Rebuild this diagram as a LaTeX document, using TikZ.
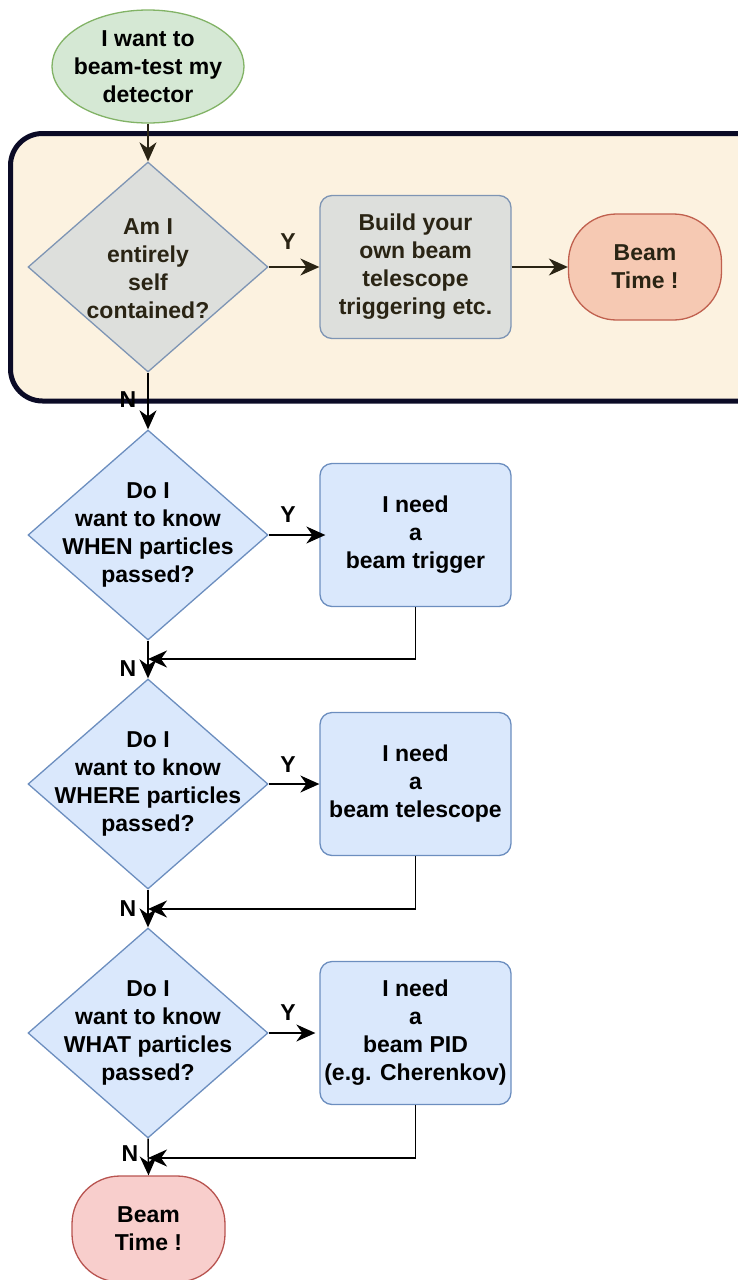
\documentclass[tikz,border=0pt]{standalone}
\usepackage{fontspec}
\setmainfont{Liberation Sans}
\usetikzlibrary{shapes.geometric,arrows.meta}

\definecolor{startfill}{HTML}{D5E8D4}
\definecolor{startline}{HTML}{82B366}
\definecolor{groupfill}{HTML}{FCF2E0}
\definecolor{groupline}{HTML}{0B0B26}
\definecolor{grayfill}{HTML}{DDDFDC}
\definecolor{grayline}{HTML}{7E95B4}
\definecolor{bluefill}{HTML}{DAE8FC}
\definecolor{blueline}{HTML}{6C8EBF}
\definecolor{endfill}{HTML}{F8CECC}
\definecolor{endline}{HTML}{B85450}
\definecolor{end1fill}{HTML}{F6C9B3}
\definecolor{end1line}{HTML}{C0604E}
\definecolor{darkink}{HTML}{2A2414}

\tikzset{
  every node/.style={font=\bfseries\fontsize{23}{28}\selectfont},
  txt/.style={align=center, inner sep=0pt},
  dia/.style={shape=diamond, draw, line width=1.3pt, inner sep=0pt,
    minimum width=240pt, minimum height=210pt},
  graydia/.style={dia, fill=grayfill, draw=grayline},
  bluedia/.style={dia, fill=bluefill, draw=blueline},
  stepbox/.style={draw, rounded corners=12pt, line width=1.3pt, align=center,
    minimum width=191pt, minimum height=143pt, inner sep=0pt},
  graybox/.style={stepbox, fill=grayfill, draw=grayline},
  bluebox/.style={stepbox, fill=bluefill, draw=blueline},
  endbox/.style={draw, rounded corners=48pt, line width=1.3pt, align=center,
    minimum width=153pt, minimum height=106pt, inner sep=0pt},
  arr/.style={line width=1.5pt, -{Stealth[length=19pt,width=17pt,inset=6pt]}},
  lbl/.style={inner sep=0pt},
}

\begin{document}
\begin{tikzpicture}[x=1pt, y=-1pt]
\useasboundingbox (0,0) rectangle (737,1280);

% shaded group around the first question
\draw[groupline, fill=groupfill, line width=5pt, rounded corners=32pt]
  (10.5,133.5) rectangle (790,401);

% start
\node[ellipse, draw=startline, fill=startfill, line width=1.3pt,
  minimum width=192pt, minimum height=113pt, inner sep=0pt]
  (start) at (148,66.5) {};
\node[txt] at (start.center) {I want to\\beam-test my\\detector};

% first question (inside the group)
\node[graydia] (d1) at (148,267) {};
\node[txt, text=darkink] at ([yshift=-2pt]d1.center) {Am I\\entirely\\self\\contained?};
\node[graybox, text=darkink] (b1) at (415.5,267) {Build your\\own beam\\telescope\\triggering etc.};
\node[endbox, fill=end1fill, draw=end1line, text=darkink] (t1) at (645,267) {Beam\\Time !};

% remaining questions
\node[bluedia] (d2) at (148,535) {};
\node[txt] at (d2.center) {Do I\\want to know\\WHEN particles\\passed?};
\node[bluebox] (b2) at (415.5,535) {I need\\a\\beam trigger};

\node[bluedia] (d3) at (148,784) {};
\node[txt] at (d3.center) {Do I\\want to know\\WHERE particles\\passed?};
\node[bluebox] (b3) at (415.5,784) {I need\\a\\beam telescope};

\node[bluedia] (d4) at (148,1033) {};
\node[txt] at (d4.center) {Do I\\want to know\\WHAT particles\\passed?};
\node[bluebox] (b4) at (415.5,1033) {I need\\a\\beam PID\\(e.g. Cherenkov)};

\node[endbox, fill=endfill, draw=endline] (t2) at (148.5,1229) {Beam\\Time !};

% merge points on the main line
\coordinate (j2) at (148,659);
\coordinate (j3) at (148,909);
\coordinate (j4) at (148,1158);

% connectors inside the group
\draw[arr, darkink] (start.south) -- (d1.north);
\draw[arr, darkink] (d1.east) -- (b1.west);
\draw[arr, darkink] (b1.east) -- (t1.west);
\node[lbl, text=darkink] at (288,242) {Y};

% main line
\draw[arr] (d1.south) -- (d2.north);
\node[lbl] at (128,400) {N};

\draw[arr] (d2.east) -- ([xshift=6pt]b2.west);
\node[lbl] at (288,515) {Y};
\draw[arr] (b2.south) |- (j2);
\draw[arr] (d2.south) -- (d3.north);
\node[lbl] at (128,669) {N};

\draw[arr] (d3.east) -- (b3.west);
\node[lbl] at (288,765) {Y};
\draw[arr] (b3.south) |- (j3);
\draw[arr] (d3.south) -- (d4.north);
\node[lbl] at (128,909) {N};

\draw[arr] (d4.east) -- ([xshift=-4pt]b4.west);
\node[lbl] at (288,1013) {Y};
\draw[arr] (b4.south) |- (j4);
\draw[arr] (d4.south) -- (t2.north);
\node[lbl] at (130,1154) {N};
\end{tikzpicture}
\end{document}
